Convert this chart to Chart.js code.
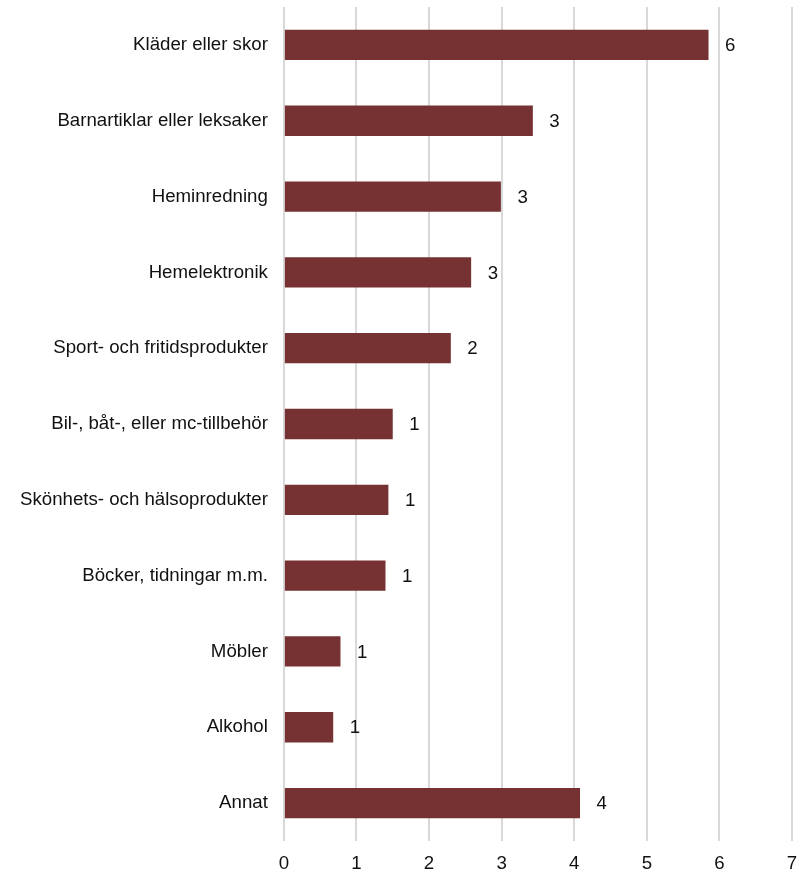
<!DOCTYPE html>
<html>
<head>
<meta charset="utf-8">
<script src="https://cdn.jsdelivr.net/npm/chart.js@4"></script>
<style>
  html, body { margin: 0; padding: 0; background: #fff; overflow: hidden; }
  #wrap { position: absolute; left: 0; top: 0; width: 800px; height: 872px; }
</style>
</head>
<body>
<div id="wrap"><canvas id="myChart"></canvas></div>
<script>
var categories = [
  "Kläder eller skor",
  "Barnartiklar eller leksaker",
  "Heminredning",
  "Hemelektronik",
  "Sport- och fritidsprodukter",
  "Bil-, båt-, eller mc-tillbehör",
  "Skönhets- och hälsoprodukter",
  "Böcker, tidningar m.m.",
  "Möbler",
  "Alkohol",
  "Annat"
];
var values = [5.85, 3.43, 2.99, 2.58, 2.3, 1.5, 1.44, 1.4, 0.78, 0.68, 4.08];
var valueLabels = ["6", "3", "3", "3", "2", "1", "1", "1", "1", "1", "4"];
var xTicks = [0, 1, 2, 3, 4, 5, 6, 7];

var fontFamily = "'Liberation Sans', Arial, sans-serif";
var fontSize = 18.67;

// draws the rounded numbers to the right of each bar
var barLabels = {
  id: "barLabels",
  afterDatasetsDraw: function (chart) {
    var ctx = chart.ctx;
    var meta = chart.getDatasetMeta(0);
    ctx.save();
    ctx.font = fontSize + "px " + fontFamily;
    ctx.fillStyle = "#111";
    ctx.textAlign = "left";
    ctx.textBaseline = "middle";
    for (var i = 0; i < meta.data.length; i++) {
      var bar = meta.data[i];
      ctx.fillText(valueLabels[i], bar.x + 16.5, bar.y + 1);
    }
    ctx.restore();
  }
};

function noEdgePadding(axis) {
  axis.paddingTop = 0;
  axis.paddingBottom = 0;
  axis.paddingLeft = 0;
  axis.paddingRight = 0;
}

const ctx = document.getElementById("myChart");
const myChart = new Chart(ctx, {
  type: "bar",
  data: {
    labels: categories,
    datasets: [
      {
        data: values,
        backgroundColor: "#763232",
        borderWidth: 0,
        barPercentage: 0.4,
        categoryPercentage: 1.0
      }
    ]
  },
  options: {
    indexAxis: "y",
    responsive: true,
    maintainAspectRatio: false,
    animation: false,
    layout: { padding: { top: 7, right: 8, left: 4, bottom: 0 } },
    plugins: {
      legend: { display: false },
      tooltip: { enabled: false }
    },
    scales: {
      x: {
        min: 0,
        max: 7,
        afterBuildTicks: function (axis) {
          axis.ticks = xTicks.map(function (v) { return { value: v }; });
        },
        afterFit: function (axis) {
          noEdgePadding(axis);
          axis.height = 31;
        },
        grid: {
          color: "#d9d9d9",
          lineWidth: 2,
          drawTicks: false
        },
        border: { display: false },
        ticks: {
          padding: 12,
          color: "#111",
          font: { family: fontFamily, size: fontSize }
        }
      },
      y: {
        afterFit: noEdgePadding,
        grid: { display: false, drawTicks: false },
        border: { display: false },
        ticks: {
          padding: 16,
          color: "#111",
          font: { family: fontFamily, size: fontSize }
        }
      }
    }
  },
  plugins: [barLabels]
});
</script>
</body>
</html>
